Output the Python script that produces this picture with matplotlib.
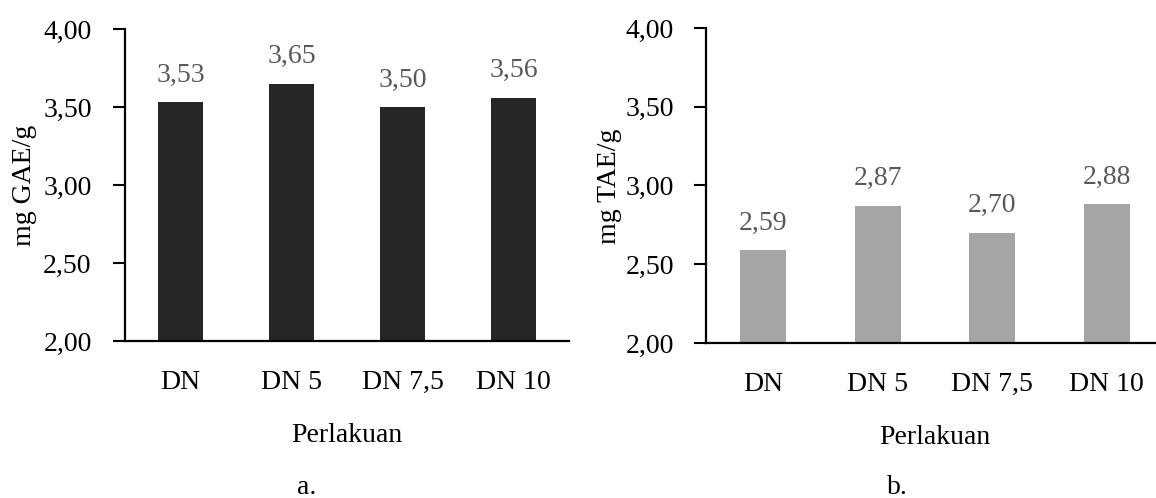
import matplotlib
matplotlib.use("Agg")
import matplotlib.pyplot as plt

categories = ["DN", "DN 5", "DN 7,5", "DN 10"]
gae_values = [3.53, 3.65, 3.50, 3.56]
tae_values = [2.59, 2.87, 2.70, 2.88]
y_ticks = [2.0, 2.5, 3.0, 3.5, 4.0]
y_ticklabels = ["2,00", "2,50", "3,00", "3,50", "4,00"]

plt.rcParams['font.family'] = ['Liberation Serif', 'DejaVu Serif']

W, H = 1156, 498
FS = 20
fig = plt.figure(figsize=(W / 100, H / 100), dpi=100)


def px_rect(left, top, right, bottom):
    return [left / W, 1 - bottom / H, (right - left) / W, (bottom - top) / H]


def make_panel(rect, values, color, ylabel, ylabel_xy, letter, letter_xy, ypad):
    ax = fig.add_axes(rect)
    x = list(range(len(categories)))
    ax.bar(x, values, width=0.4, color=color, zorder=2)
    ax.set_xlim(-0.5, len(categories) - 0.5)
    ax.set_ylim(2.0, 4.0)
    ax.set_yticks(y_ticks)
    ax.set_yticklabels(y_ticklabels, fontsize=FS)
    ax.set_xticks(x)
    ax.set_xticklabels(categories, fontsize=FS)
    ax.tick_params(axis='x', length=0, pad=21)
    ax.tick_params(axis='y', length=9, width=1.5, direction='out', pad=ypad)
    for s in ['top', 'right']:
        ax.spines[s].set_visible(False)
    for s in ['left', 'bottom']:
        ax.spines[s].set_linewidth(1.6)
        ax.spines[s].set_color('black')
    ax.set_xlabel("Perlakuan", fontsize=FS, labelpad=20)
    fig.text(ylabel_xy[0] / W, 1 - ylabel_xy[1] / H, ylabel, rotation=90,
             ha='center', va='center', fontsize=FS)
    for xi, v in zip(x, values):
        ax.annotate(f"{v:.2f}".replace('.', ','), (xi, v), xytext=(0, 10.5),
                    textcoords='offset points', ha='center', va='bottom',
                    fontsize=FS, color='#595959')
    fig.text(letter_xy[0] / W, 1 - letter_xy[1] / H, letter,
             ha='center', va='center', fontsize=FS)
    return ax


make_panel(px_rect(125, 29, 569, 341), gae_values, '#262626',
           "mg GAE/g", (25, 185), "a.", (307, 487), 15)
make_panel(px_rect(706, 28, 1164, 343), tae_values, '#A5A5A5',
           "mg TAE/g", (610, 186), "b.", (897, 487), 14)

fig.savefig("out.png", dpi=100, facecolor='white')
